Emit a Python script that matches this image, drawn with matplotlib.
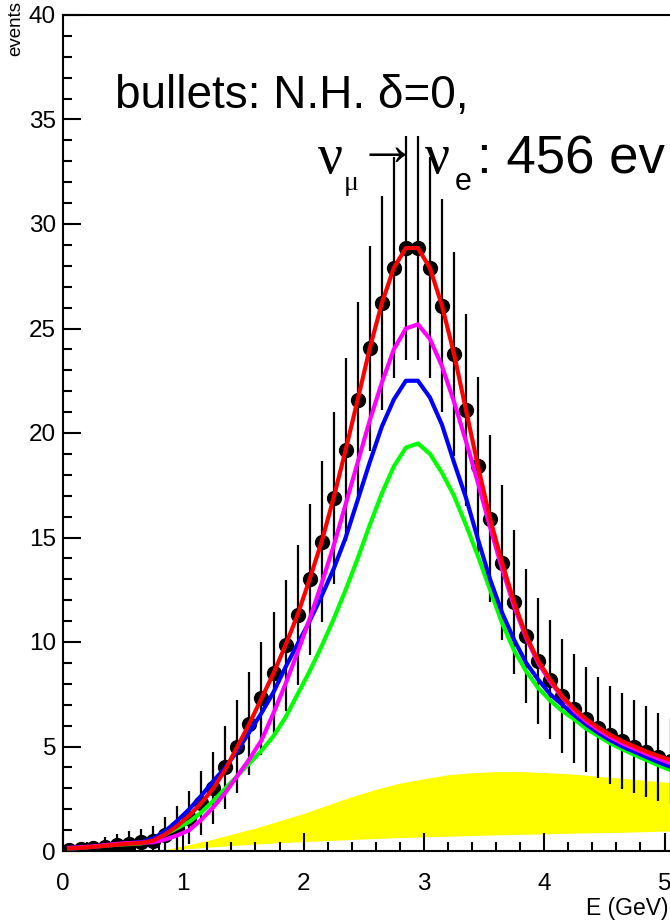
import matplotlib
matplotlib.use("Agg")
import matplotlib.pyplot as plt
import numpy as np
from matplotlib.ticker import MultipleLocator

plt.rcParams['font.family'] = ['Liberation Sans', 'DejaVu Sans']

# bin centres (GeV)
energy = [0.05, 0.15, 0.25, 0.35, 0.45, 0.55, 0.65, 0.75, 0.85, 0.95,
          1.05, 1.15, 1.25, 1.35, 1.45, 1.55, 1.65, 1.75, 1.85, 1.95,
          2.05, 2.15, 2.25, 2.35, 2.45, 2.55, 2.65, 2.75, 2.85, 2.95,
          3.05, 3.15, 3.25, 3.35, 3.45, 3.55, 3.65, 3.75, 3.85, 3.95,
          4.05, 4.15, 4.25, 4.35, 4.45, 4.55, 4.65, 4.75, 4.85, 4.95,
          5.05]

# bullets: N.H. delta=0
events = [0.05, 0.08, 0.12, 0.2, 0.28, 0.35, 0.42, 0.5, 0.75, 1.1,
          1.6, 2.3, 3.0, 4.0, 5.0, 6.1, 7.3, 8.5, 9.85, 11.3,
          13.0, 14.8, 16.9, 19.2, 21.6, 24.05, 26.2, 27.9, 28.85, 28.85,
          27.9, 26.1, 23.8, 21.1, 18.4, 15.9, 13.8, 11.9, 10.3, 9.1,
          8.2, 7.4, 6.8, 6.3, 5.9, 5.55, 5.25, 5.0, 4.75, 4.5,
          4.3]

red = [0.12, 0.15, 0.2, 0.25, 0.3, 0.35, 0.38, 0.5, 0.8, 1.2,
       1.7, 2.3, 3.0, 3.9, 5.0, 6.1, 7.3, 8.5, 9.85, 11.3,
       13.0, 14.8, 16.9, 19.2, 21.6, 24.05, 26.2, 27.9, 28.85, 28.85,
       27.9, 26.1, 23.8, 21.1, 18.4, 15.9, 13.8, 11.9, 10.3, 9.1,
       8.2, 7.4, 6.8, 6.3, 5.9, 5.55, 5.25, 5.0, 4.75, 4.55,
       4.35]

magenta = [0.15, 0.18, 0.22, 0.28, 0.34, 0.38, 0.4, 0.42, 0.55, 0.75,
           1.0, 1.5, 2.1, 2.8, 3.6, 4.4, 5.3, 6.6, 8.0, 9.5,
           11.1, 12.8, 14.6, 16.6, 18.6, 20.6, 22.4, 24.0, 25.0, 25.2,
           24.5, 23.2, 21.5, 19.6, 17.6, 15.5, 13.5, 11.7, 10.2, 9.0,
           8.1, 7.35, 6.7, 6.2, 5.8, 5.45, 5.15, 4.9, 4.65, 4.42,
           4.2]

blue = [0.12, 0.15, 0.2, 0.25, 0.32, 0.38, 0.42, 0.6, 0.95, 1.45,
        2.0, 2.65, 3.35, 4.0, 4.8, 5.7, 6.6, 7.6, 8.8, 9.9,
        11.0, 12.2, 13.5, 15.0, 16.8, 18.6, 20.3, 21.6, 22.5, 22.5,
        21.7, 20.4, 18.6, 16.9, 14.9, 13.0, 11.4, 10.1, 9.0, 8.2,
        7.5, 7.0, 6.5, 6.05, 5.65, 5.3, 5.0, 4.75, 4.5, 4.25,
        4.03]

green = [0.12, 0.15, 0.2, 0.25, 0.3, 0.33, 0.36, 0.5, 0.8, 1.1,
         1.4, 1.85, 2.4, 3.0, 3.6, 4.2, 4.8, 5.5, 6.4, 7.5,
         8.6, 9.8, 11.1, 12.5, 14.0, 15.6, 17.1, 18.4, 19.3, 19.5,
         19.0, 18.1, 17.0, 15.6, 14.1, 12.5, 10.9, 9.6, 8.6, 7.8,
         7.2, 6.7, 6.3, 5.85, 5.5, 5.15, 4.87, 4.6, 4.35, 4.1,
         3.87]

# yellow band
band_x = [0.8, 1.0, 1.2, 1.4, 1.6, 1.8, 2.0, 2.2, 2.4, 2.6, 2.8, 3.0,
          3.2, 3.4, 3.6, 3.8, 4.0, 4.2, 4.4, 4.6, 4.8, 5.0, 5.2]
band_hi = [0.0, 0.25, 0.5, 0.8, 1.1, 1.45, 1.8, 2.2, 2.6, 2.95, 3.25, 3.45,
           3.65, 3.75, 3.8, 3.8, 3.75, 3.7, 3.6, 3.5, 3.4, 3.3, 3.2]
band_lo = [0.0, 0.1, 0.18, 0.26, 0.33, 0.4, 0.45, 0.5, 0.55, 0.6, 0.64, 0.68,
           0.71, 0.74, 0.77, 0.8, 0.82, 0.85, 0.87, 0.89, 0.92, 0.95, 0.97]

W, H = 670, 923
fig = plt.figure(figsize=(W / 100, H / 100), dpi=100)
ax = fig.add_axes([63 / W, 72 / H, 6 * 120.3 / W, 836 / H])


def ftext(px, py, s, **kw):
    # place text by pixel position from the top-left corner
    fig.text(px / W, 1 - py / H, s, **kw)


ax.fill_between(band_x, band_lo, band_hi, color='#ffff00', lw=0, zorder=1)

err = np.sqrt(events)
ax.errorbar(energy, events, yerr=err, fmt='o', color='black', ms=10,
            elinewidth=1.6, capsize=0, zorder=2)

ax.plot(energy, green, color='#00ff00', lw=3, zorder=3)
ax.plot(energy, blue, color='#0000ff', lw=3, zorder=3)
ax.plot(energy, magenta, color='#ff00ff', lw=3, zorder=3)
ax.plot(energy, red, color='#ff0000', lw=3, zorder=4)

ax.set_xlim(0, 6)
ax.set_ylim(0, 40)
ax.xaxis.set_major_locator(MultipleLocator(1))
ax.xaxis.set_minor_locator(MultipleLocator(0.2))
ax.yaxis.set_major_locator(MultipleLocator(5))
ax.yaxis.set_minor_locator(MultipleLocator(1))
ax.tick_params(which='both', direction='in', top=False, right=False,
               labelsize=17.5, width=1.5)
ax.tick_params(axis='x', pad=16)
ax.tick_params(axis='y', pad=5)
ax.tick_params(which='major', length=13)
ax.tick_params(which='minor', length=6.5)
for s in ax.spines.values():
    s.set_linewidth(1.5)

serif = ['Liberation Serif', 'DejaVu Serif']
ftext(115, 108, 'bullets: N.H. δ=0,', fontsize=33, va='baseline', zorder=0)
ftext(318, 173, 'ν', fontsize=40, family=serif, va='baseline', zorder=0)
ftext(344, 190, 'μ', fontsize=20, family=serif, va='baseline', zorder=0)
ftext(357, 165, '→', fontsize=44, family=serif, va='baseline', zorder=0)
ftext(425, 173, 'ν', fontsize=40, family=serif, va='baseline', zorder=0)
ftext(455, 190, 'e', fontsize=22, va='baseline', zorder=0)
ftext(477, 174, ': 456 ev', fontsize=38, va='baseline', zorder=0)

ftext(668, 908, 'E (GeV)', fontsize=16.5, ha='right', va='center')
ftext(16, 1, 'events', fontsize=13.5, rotation=90, ha='center', va='top')

plt.savefig('out.png', dpi=100)
